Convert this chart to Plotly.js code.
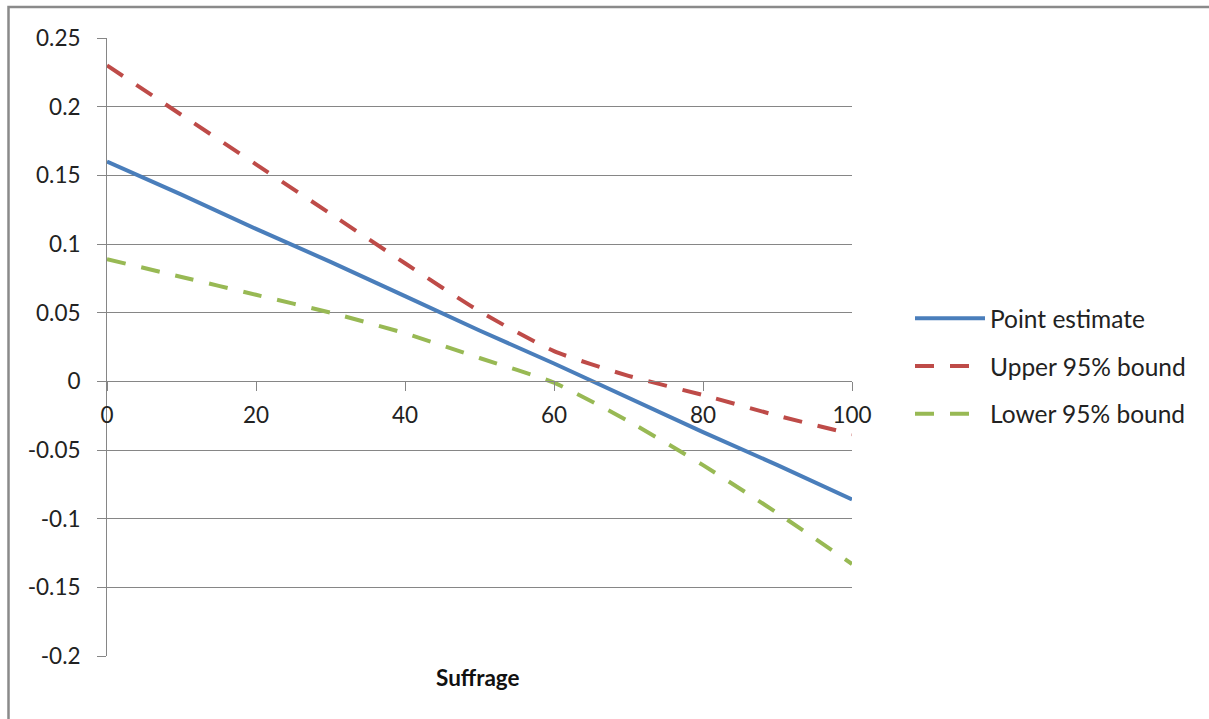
<!DOCTYPE html>
<html>
<head>
<meta charset="utf-8">
<script src="https://cdn.plot.ly/plotly-3.0.1.min.js"></script>
<style>
html,body{margin:0;padding:0;background:#fff;overflow:hidden;}
#chart{width:1209px;height:719px;}
</style>
</head>
<body>
<div id="chart"></div>
<script>
const suffrage = [0, 10, 20, 30, 40, 50, 60, 70, 80, 90, 100];
const pointEstimate = [0.160, 0.136, 0.111, 0.087, 0.062, 0.037, 0.013, -0.012, -0.037, -0.061, -0.086];
const upperBound = [0.230, 0.194, 0.158, 0.122, 0.086, 0.051, 0.022, 0.004, -0.010, -0.025, -0.0385];
const lowerBound = [0.089, 0.076, 0.063, 0.050, 0.035, 0.017, -0.001, -0.029, -0.061, -0.096, -0.133];
const seriesNames = ["Point estimate", "Upper 95% bound", "Lower 95% bound"];
const yTicks = [-0.2, -0.15, -0.1, -0.05, 0, 0.05, 0.1, 0.15, 0.2, 0.25];
const yTickText = ["-0.2", "-0.15", "-0.1", "-0.05", "0", "0.05", "0.1", "0.15", "0.2", "0.25"];
const xTicks = [0, 20, 40, 60, 80, 100];

const FONT = "Lato, 'Open Sans', sans-serif";
const fs = 22.5;
const lfs = 24.5;

const traces = [
  {x: suffrage, y: pointEstimate, name: seriesNames[0], mode: "lines",
   line: {color: "#4A7EBB", width: 4}, legendgroup: "a", cliponaxis: false},
  {x: suffrage, y: upperBound, name: seriesNames[1], mode: "lines",
   line: {color: "#BE4B48", width: 4, dash: "19px,16px", shape: "spline", smoothing: 0.6}, legendgroup: "b", cliponaxis: false},
  {x: suffrage, y: lowerBound, name: seriesNames[2], mode: "lines",
   line: {color: "#98B954", width: 4, dash: "19px,16px", shape: "spline", smoothing: 0.6}, legendgroup: "c", cliponaxis: false}
];

const L = 107, R = 852, T = 37.5, B = 656;
const W = R - L, H = B - T;
const yZeroFrac = (0 - (-0.2)) / 0.45;

const layout = {
  width: 1209, height: 719,
  margin: {l: L, r: 1209 - R, t: T, b: 719 - B},
  paper_bgcolor: "#fff", plot_bgcolor: "#fff",
  font: {family: FONT, size: fs, color: "#222"},
  showlegend: true,
  legend: {x: (910 - L) / W, xanchor: "left", y: (B - 366) / H, yanchor: "middle",
           font: {family: FONT, size: lfs, color: "#222"}, itemwidth: 70,
           traceorder: "grouped", tracegroupgap: 13, bgcolor: "rgba(0,0,0,0)"},
  xaxis: {range: [0, 100], tickvals: xTicks, ticktext: xTicks.map(String),
          showgrid: false, zeroline: false, showline: true, linecolor: "#868686", linewidth: 1,
          ticks: "outside", ticklen: 9, tickcolor: "#868686", tickwidth: 1,
          anchor: "free", position: yZeroFrac, ticklabelstandoff: 5,
          tickfont: {family: FONT, size: fs, color: "#222"}},
  yaxis: {range: [-0.2, 0.25], tickvals: yTicks, ticktext: yTickText,
          showgrid: true, gridcolor: "#868686", gridwidth: 1, zeroline: false,
          showline: true, linecolor: "#868686", linewidth: 1,
          ticks: "outside", ticklen: 9, tickcolor: "#868686", tickwidth: 1,
          ticklabelstandoff: 12,
          tickfont: {family: FONT, size: fs, color: "#222"}},
  annotations: [{text: "<b>Suffrage</b>", xref: "paper", yref: "paper",
                 x: (478 - L) / W, y: (B - 678) / H, xanchor: "center", yanchor: "middle",
                 showarrow: false, font: {family: FONT, size: fs, color: "#111"}}],
  shapes: [{type: "rect", xref: "paper", yref: "paper",
            x0: (8.5 - L) / W, x1: (1400 - L) / W, y0: (B - 800) / H, y1: (B - 6.5) / H,
            line: {color: "#8a8a8a", width: 2.5}, fillcolor: "rgba(0,0,0,0)", layer: "below"}]
};

Plotly.newPlot("chart", traces, layout, {displayModeBar: false, staticPlot: true});
</script>
</body>
</html>
